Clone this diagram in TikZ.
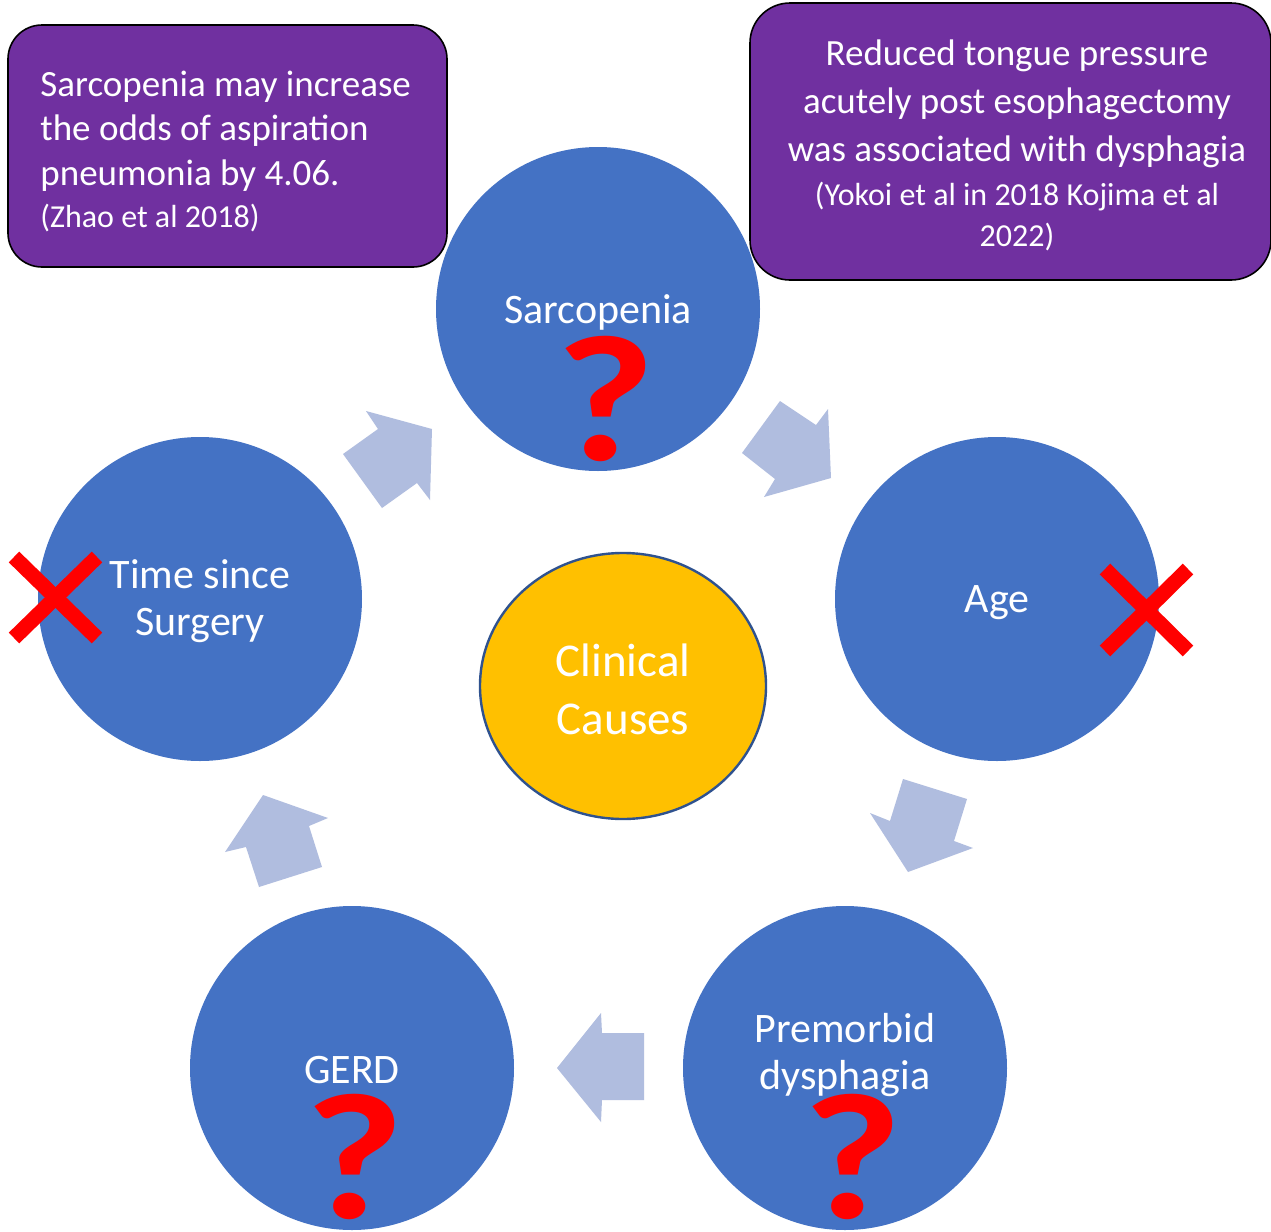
\documentclass[tikz,border=0pt]{standalone}
\usepackage{fontspec}
\setmainfont{Carlito}
\usetikzlibrary{shapes.geometric}
\definecolor{cblue}{HTML}{4472C4}
\definecolor{cpurple}{HTML}{7030A0}
\definecolor{cyellow}{HTML}{FFC000}
\definecolor{cedge}{HTML}{2F528F}
\definecolor{carrow}{HTML}{B0BDDF}
\definecolor{cred}{HTML}{FF0000}
\begin{document}
\begin{tikzpicture}[x=0.5pt,y=-0.5pt,
  causecirc/.style={circle,fill=cblue,minimum size=162pt,inner sep=0pt},
  circlabel/.style={text=white,inner sep=0pt,align=center,font=\fontsize{21}{23.5}\selectfont},
  infobox/.style={draw=black,line width=0.8pt,fill=cpurple,rounded corners=17pt},
  blockarrow/.style={fill=carrow},
  qmark/.style={text=cred,inner sep=0pt,text depth=0pt,font=\fontsize{90}{90}\selectfont\bfseries},
  crossline/.style={draw=cred,line width=7.5pt},
  boxtext/.style={text=white,inner sep=0pt,font=\fontsize{18.5}{22.25}\selectfont},
  smalltext/.style={text=white,inner sep=0pt,font=\fontsize{16}{20.5}\selectfont}]
\useasboundingbox (0,0) rectangle (1271,1232);
\fill[white] (0,0) rectangle (1271,1232);
% circles
\node[causecirc] (sar) at (598,309) {};
\node[causecirc] (age) at (997,599) {};
\node[causecirc] (pre) at (845,1068) {};
\node[causecirc] (gerd) at (352,1068) {};
\node[causecirc] (time) at (200,599) {};
\node[ellipse,draw=cedge,line width=1.2pt,fill=cyellow,minimum width=143pt,minimum height=133pt,inner sep=0pt] (clin) at (623,686) {};
% labels
\node[circlabel] (sarl) at (598,312) {Sarcopenia};
\node[circlabel] (agel) at (997,603) {Age};
\node[circlabel] (prel) at (845,1055) {Premorbid\\dysphagia};
\node[circlabel] (gerdl) at (352,1070) {GERD};
\node[circlabel] (timel) at (200,601) {Time since\\Surgery};
\node[circlabel,font=\fontsize{23.5}{29}\selectfont] (clinl) at (623,689) {Clinical\\Causes};
% question marks
\node[qmark] (q1) at (606,398) {\scalebox{1.2}[1]{?}};
\node[qmark] (q2) at (355,1156) {\scalebox{1.2}[1]{?}};
\node[qmark] (q3) at (853,1156) {\scalebox{1.2}[1]{?}};
% crosses
\coordinate (x1a) at (14,557); \coordinate (x1b) at (97,638);
\coordinate (x1c) at (14,638); \coordinate (x1d) at (97,557);
\draw[crossline] (x1a) -- (x1b);
\draw[crossline] (x1c) -- (x1d);
\coordinate (x2a) at (1105,569); \coordinate (x2b) at (1188,651);
\coordinate (x2c) at (1105,651); \coordinate (x2d) at (1188,569);
\draw[crossline] (x2a) -- (x2b);
\draw[crossline] (x2c) -- (x2d);
% block arrows
\fill[blockarrow] (366,411) -- (432,429) -- (430,500) -- (417,483) -- (382,508) -- (343,454) -- (378,429) -- cycle;
\fill[blockarrow] (780,401) -- (816,425) -- (828,409) -- (831,478) -- (764,497) -- (775,479) -- (742,453) -- cycle;
\fill[blockarrow] (903,779) -- (967,799) -- (954,841) -- (973,848) -- (908,872) -- (870,813) -- (890,821) -- cycle;
\fill[blockarrow] (557,1068) -- (601,1013) -- (602,1033) -- (644,1033) -- (644,1100) -- (602,1100) -- (601,1122) -- cycle;
\fill[blockarrow] (263,795) -- (328,818) -- (309,826) -- (322,867) -- (259,887) -- (246,847) -- (225,852) -- cycle;
% info boxes
\draw[infobox] (8,25) rectangle (447,267);
\node[boxtext,anchor=west,align=left] (b1t) at (40,131) {Sarcopenia may increase\\the odds of aspiration\\pneumonia by 4.06.};
\node[smalltext,anchor=west] (b1s) at (40,218) {(Zhao et al 2018)};
\draw[infobox,rounded corners=20pt] (750,3) rectangle (1271,280);
\node[boxtext,align=center,font=\fontsize{18.5}{24}\selectfont] (b2t) at (1017,104) {Reduced tongue pressure\\acutely post esophagectomy\\was associated with dysphagia};
\node[smalltext,align=center] (b2s) at (1017,217) {(Yokoi et al in 2018 Kojima et al\\2022)};
\end{tikzpicture}
\end{document}
